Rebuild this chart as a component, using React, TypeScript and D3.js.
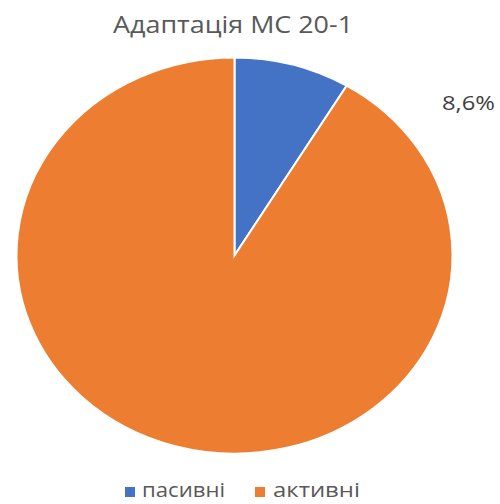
import React from "react";
import * as d3 from "d3";

const categories = ["пасивні", "активні"];
const values = [8.6, 91.4];
const colors = ["#4472C4", "#ED7D31"];
const labelTexts = ["8,6%"];
const title = "Адаптація МС 20-1";

export default function App() {
  const W = 500, H = 504;
  const cx = 234.5, cy = 255.5, rx = 218, ry = 198;
  const pie = d3.pie<number>().sort(null).value((d) => d);
  const arcs = pie(values);
  const arc = d3.arc<d3.PieArcDatum<number>>().innerRadius(0).outerRadius(rx);
  const font = "'Open Sans', 'Noto Sans', sans-serif";
  return (
    <svg width={W} height={H} style={{ position: "absolute", left: 0, top: 0 }}>
      <rect width={W} height={H} fill="#fff" />
      <text x={113} y={33} fontFamily={font} fontSize={23} fill="#595959"
        textLength={240} lengthAdjust="spacingAndGlyphs">
        {title}
      </text>
      <g transform={`translate(${cx},${cy}) scale(1,${ry / rx})`}>
        {arcs.map((a, i) => (
          <path key={i} d={arc(a) || ""} fill={colors[i]} stroke="#fff" strokeWidth={2} />
        ))}
      </g>
      <text x={442} y={110} fontFamily={font} fontSize={20} fill="#404040"
        textLength={53} lengthAdjust="spacingAndGlyphs">
        {labelTexts[0]}
      </text>
      <g fontFamily={font} fontSize={20} fill="#595959">
        <rect x={125} y={487} width={10} height={10} fill={colors[0]} />
        <text x={142} y={497} textLength={83} lengthAdjust="spacingAndGlyphs">{categories[0]}</text>
        <rect x={255} y={487} width={10} height={10} fill={colors[1]} />
        <text x={273} y={497} textLength={87} lengthAdjust="spacingAndGlyphs">{categories[1]}</text>
      </g>
    </svg>
  );
}
